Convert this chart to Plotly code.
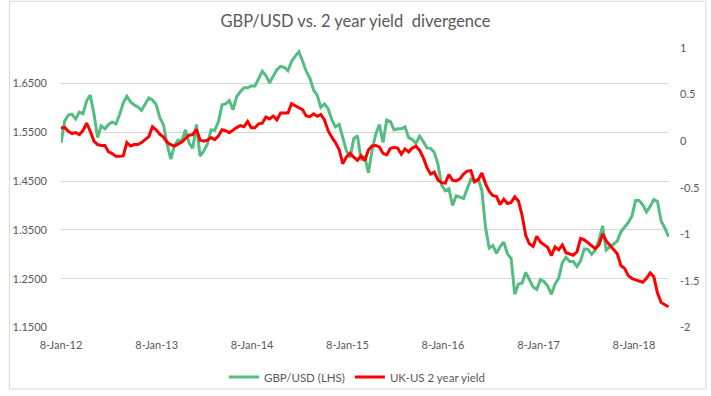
import pandas as pd
import plotly.graph_objects as go

start_date = "2012-01-08"

gbpusd = [
    1.528, 1.573, 1.585, 1.587, 1.577, 1.591, 1.588, 1.614, 1.626, 1.588,
    1.539, 1.563, 1.557, 1.566, 1.571, 1.567, 1.586, 1.610, 1.624, 1.612,
    1.606, 1.602, 1.595, 1.607, 1.620, 1.616, 1.607, 1.580, 1.565, 1.525,
    1.495, 1.523, 1.534, 1.531, 1.555, 1.528, 1.517, 1.566, 1.501, 1.511,
    1.526, 1.555, 1.554, 1.571, 1.606, 1.608, 1.615, 1.596, 1.623, 1.633,
    1.641, 1.641, 1.645, 1.645, 1.659, 1.675, 1.666, 1.651, 1.665, 1.678,
    1.685, 1.683, 1.676, 1.695, 1.706, 1.715, 1.696, 1.675, 1.661, 1.637,
    1.626, 1.601, 1.608, 1.598, 1.576, 1.561, 1.566, 1.540, 1.512, 1.498,
    1.537, 1.543, 1.493, 1.501, 1.467, 1.513, 1.546, 1.566, 1.529, 1.575,
    1.572, 1.555, 1.557, 1.557, 1.561, 1.539, 1.535, 1.527, 1.542, 1.531,
    1.518, 1.517, 1.509, 1.485, 1.442, 1.430, 1.434, 1.400, 1.420, 1.417,
    1.414, 1.434, 1.454, 1.450, 1.454, 1.431, 1.356, 1.313, 1.318, 1.302,
    1.316, 1.325, 1.301, 1.291, 1.218, 1.239, 1.241, 1.263, 1.248, 1.233,
    1.228, 1.248, 1.244, 1.235, 1.218, 1.239, 1.251, 1.283, 1.294, 1.285,
    1.285, 1.275, 1.287, 1.311, 1.310, 1.300, 1.309, 1.329, 1.358, 1.309,
    1.315, 1.322, 1.327, 1.346, 1.356, 1.365, 1.378, 1.410, 1.410, 1.401,
    1.387, 1.398, 1.412, 1.408, 1.368, 1.354, 1.336,
]

uk_us_2y = [
    0.140, 0.147, 0.105, 0.082, 0.093, 0.070, 0.114, 0.193, 0.107, 0.001,
    -0.036, -0.046, -0.046, -0.115, -0.134, -0.163, -0.163, -0.159, -0.015, -0.052,
    -0.036, -0.036, -0.015, 0.022, 0.049, 0.154, 0.123, 0.075, 0.043, -0.012,
    -0.038, -0.052, -0.034, -0.010, 0.028, 0.064, 0.070, 0.128, 0.012, -0.001,
    0.010, 0.038, 0.017, 0.054, 0.123, 0.112, 0.091, 0.123, 0.146, 0.167,
    0.155, 0.210, 0.144, 0.144, 0.186, 0.193, 0.260, 0.239, 0.270, 0.228,
    0.302, 0.302, 0.302, 0.402, 0.384, 0.359, 0.339, 0.270, 0.263, 0.294,
    0.267, 0.286, 0.228, 0.112, 0.043, -0.015, -0.089, -0.242, -0.168, -0.129,
    -0.173, -0.205, -0.157, -0.210, -0.094, -0.052, -0.046, -0.062, -0.131, -0.147,
    -0.078, -0.065, -0.074, -0.141, -0.083, -0.115, -0.074, -0.054, -0.099, -0.177,
    -0.284, -0.353, -0.332, -0.416, -0.445, -0.450, -0.358, -0.421, -0.426, -0.405,
    -0.353, -0.321, -0.316, -0.437, -0.416, -0.342, -0.455, -0.537, -0.585, -0.592,
    -0.680, -0.622, -0.669, -0.659, -0.596, -0.643, -0.796, -1.013, -1.102, -1.130,
    -1.021, -1.081, -1.113, -1.139, -1.229, -1.134, -1.166, -1.113, -1.197, -1.213,
    -1.224, -1.187, -1.044, -1.060, -1.092, -1.118, -1.155, -1.113, -0.997, -1.071,
    -1.113, -1.163, -1.208, -1.335, -1.366, -1.443, -1.472, -1.488, -1.498, -1.514,
    -1.472, -1.414, -1.456, -1.630, -1.731, -1.755, -1.778,
]

dates = pd.date_range(start_date, periods=len(gbpusd), freq="14D")

x_tick_dates = ["2012-01-08", "2013-01-08", "2014-01-08", "2015-01-08",
                "2016-01-08", "2017-01-08", "2018-01-08"]
x_tick_labels = ["8-Jan-12", "8-Jan-13", "8-Jan-14", "8-Jan-15",
                 "8-Jan-16", "8-Jan-17", "8-Jan-18"]
left_ticks = [1.15, 1.25, 1.35, 1.45, 1.55, 1.65]
left_labels = ["1.1500", "1.2500", "1.3500", "1.4500", "1.5500", "1.6500"]
right_ticks = [1, 0.5, 0, -0.5, -1, -1.5, -2]
right_labels = ["1", "0.5", "0", "-0.5", "-1", "-1.5", "-2"]

FONT = "Lato"
GREY = "#595959"

fig = go.Figure()
fig.add_trace(go.Scatter(
    x=dates, y=gbpusd, name="GBP/USD (LHS)", mode="lines",
    line=dict(color="#55BD82", width=3), yaxis="y"))
fig.add_trace(go.Scatter(
    x=dates, y=uk_us_2y, name="UK-US 2 year yield", mode="lines",
    line=dict(color="#FF0000", width=3), yaxis="y2"))

W, H = 711, 396
L, R, T, B = 53, 39, 48, 64
pw, ph = W - L - R, H - T - B

fig.update_layout(
    width=W, height=H,
    margin=dict(l=L, r=R, t=T, b=B, pad=0),
    paper_bgcolor="white", plot_bgcolor="white",
    font=dict(family=FONT, size=11, color=GREY),
    title=dict(text="GBP/USD vs. 2 year yield  divergence",
               x=0.5, xref="container", xanchor="center",
               y=1 - 21 / H, yref="container", yanchor="middle",
               font=dict(family=FONT, size=16.5, color=GREY)),
    xaxis=dict(type="date", range=["2012-01-08", "2018-05-22"],
               tickvals=x_tick_dates, ticktext=x_tick_labels,
               showgrid=False, zeroline=False, showline=False, ticks="",
               ticklabelstandoff=9),
    yaxis=dict(range=[1.15, 1.7226], tickvals=left_ticks, ticktext=left_labels,
               showgrid=True, gridcolor="#D9D9D9", gridwidth=1,
               zeroline=False, showline=False, ticks="",
               ticklabelstandoff=13),
    yaxis2=dict(range=[-2, 1], tickvals=right_ticks, ticktext=right_labels,
                overlaying="y", side="right", showgrid=False,
                zeroline=False, showline=False, ticks="",
                ticklabelstandoff=10),
    legend=dict(orientation="h", xref="container", yref="container",
                x=357 / W, xanchor="center", y=1 - 377 / H, yanchor="middle",
                font=dict(family=FONT, size=11.5, color=GREY),
                bgcolor="rgba(0,0,0,0)"),
    showlegend=True,
    shapes=[dict(type="rect", xref="paper", yref="paper", layer="below",
                 x0=(0.5 - L) / pw, x1=(709.5 - L) / pw,
                 y0=(H - B - 394.5) / ph, y1=(H - B - 0.5) / ph,
                 line=dict(color="#D9D9D9", width=1), fillcolor="rgba(0,0,0,0)")],
)

fig.write_html("out.html",
               config={"displayModeBar": False},
               post_script="document.body.style.margin='0';"
                           "document.body.style.overflow='hidden';")
